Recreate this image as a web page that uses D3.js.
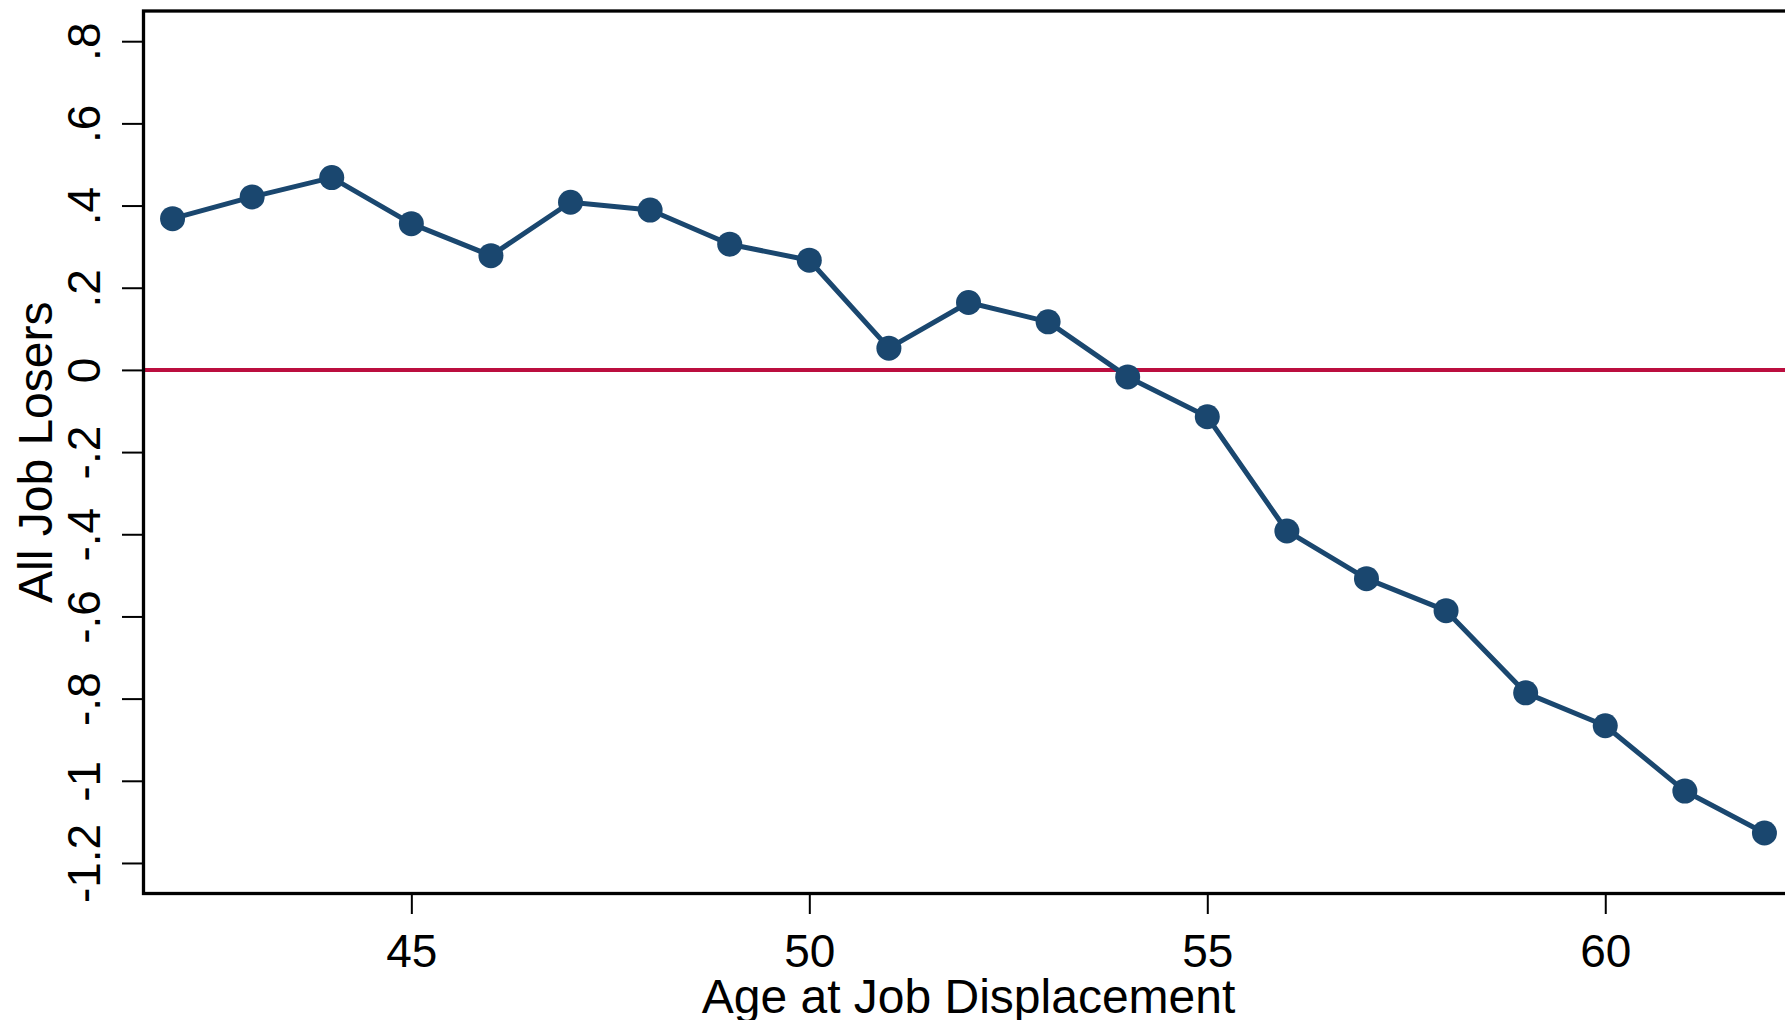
<!DOCTYPE html>
<html>
<head>
<meta charset="utf-8">
<script src="https://cdn.jsdelivr.net/npm/d3@7"></script>
<style>
  body { margin: 0; background: #fff; overflow: hidden; }
  svg { display: block; font-family: "Liberation Sans", Arial, sans-serif; }
</style>
</head>
<body>
<svg width="1785" height="1020"></svg>
<script>
// data
const ages = [42, 43, 44, 45, 46, 47, 48, 49, 50, 51, 52, 53, 54, 55, 56, 57, 58, 59, 60, 61, 62];
const effects = [0.368, 0.421, 0.468, 0.356, 0.278, 0.408, 0.389, 0.306, 0.267, 0.053, 0.164, 0.117,
                 -0.017, -0.114, -0.392, -0.508, -0.586, -0.786, -0.866, -1.025, -1.127];
const xTicks = [45, 50, 55, 60];
const yTicks = [-1.2, -1, -0.8, -0.6, -0.4, -0.2, 0, 0.2, 0.4, 0.6, 0.8];
const xTitle = 'Age at Job Displacement';
const yTitle = 'All Job Losers';

const svg = d3.select('svg');

// plot region (the right side runs past the picture edge, like the original crop)
const plot = { l: 143.5, t: 11, r: 1793.5, b: 893.5 };

const x = d3.scaleLinear().domain([41.635, 62.365]).range([plot.l, plot.r]);
const y = d3.scaleLinear().domain([-1.2743, 0.8735]).range([plot.b, plot.t]);

const navy = '#1a476f';
const red = '#bb0e3f';

// stata-style labels: ".4", "-.2", "0", "-1" (plain hyphen)
const fmt = v => {
    if (Math.abs(v) < 1e-9) return '0';
    let s = Math.abs(v).toFixed(1).replace(/\.0$/, '').replace(/^0\./, '.');
    return (v < 0 ? '-' : '') + s;
};

// zero reference line
svg.append('line')
    .attr('x1', plot.l).attr('x2', plot.r)
    .attr('y1', y(0)).attr('y2', y(0))
    .attr('stroke', red)
    .attr('stroke-width', 4);

// connected line + markers
const pts = ages.map((a, i) => ({ age: a, val: effects[i] }));
svg.append('path')
    .datum(pts)
    .attr('fill', 'none')
    .attr('stroke', navy)
    .attr('stroke-width', 5)
    .attr('stroke-linejoin', 'round')
    .attr('d', d3.line().x(d => x(d.age)).y(d => y(d.val)));

svg.selectAll('.dot')
    .data(pts)
    .enter()
    .append('circle')
    .attr('class', 'dot')
    .attr('cx', d => x(d.age))
    .attr('cy', d => y(d.val))
    .attr('r', 12.5)
    .attr('fill', navy);

// plot border
svg.append('rect')
    .attr('x', plot.l).attr('y', plot.t)
    .attr('width', plot.r - plot.l).attr('height', plot.b - plot.t)
    .attr('fill', 'none')
    .attr('stroke', '#000')
    .attr('stroke-width', 3.3);

// x axis
const gx = svg.append('g')
    .attr('transform', `translate(0, ${plot.b + 1.5})`)
    .call(d3.axisBottom(x).tickValues(xTicks).tickSize(19).tickPadding(0).tickFormat(d3.format('d')));
gx.select('.domain').remove();
gx.selectAll('.tick line').attr('stroke', '#000').attr('stroke-width', 2);
gx.selectAll('.tick text')
    .attr('y', 72)
    .attr('dy', null)
    .attr('fill', '#000')
    .style('font-size', '46px')
    .style('font-family', '"Liberation Sans", Arial, sans-serif');

// y axis
const gy = svg.append('g')
    .attr('transform', `translate(${plot.l - 1.5}, 0)`)
    .call(d3.axisLeft(y).tickValues(yTicks).tickSize(20).tickPadding(0).tickFormat(fmt));
gy.select('.domain').remove();
gy.selectAll('.tick line').attr('stroke', '#000').attr('stroke-width', 2);
gy.selectAll('.tick text')
    .attr('x', null)
    .attr('dy', null)
    .attr('text-anchor', 'middle')
    .attr('transform', `translate(${100 - plot.l + 1.5}, 0) rotate(-90)`)
    .attr('fill', '#000')
    .style('font-size', '46px')
    .style('font-family', '"Liberation Sans", Arial, sans-serif');

// axis titles
svg.append('text')
    .attr('x', (plot.l + plot.r) / 2)
    .attr('y', 1013)
    .attr('text-anchor', 'middle')
    .style('font-size', '48px')
    .text(xTitle);

svg.append('text')
    .attr('transform', `translate(52, ${(plot.t + plot.b) / 2}) rotate(-90)`)
    .attr('text-anchor', 'middle')
    .style('font-size', '48px')
    .text(yTitle);
</script>
</body>
</html>
